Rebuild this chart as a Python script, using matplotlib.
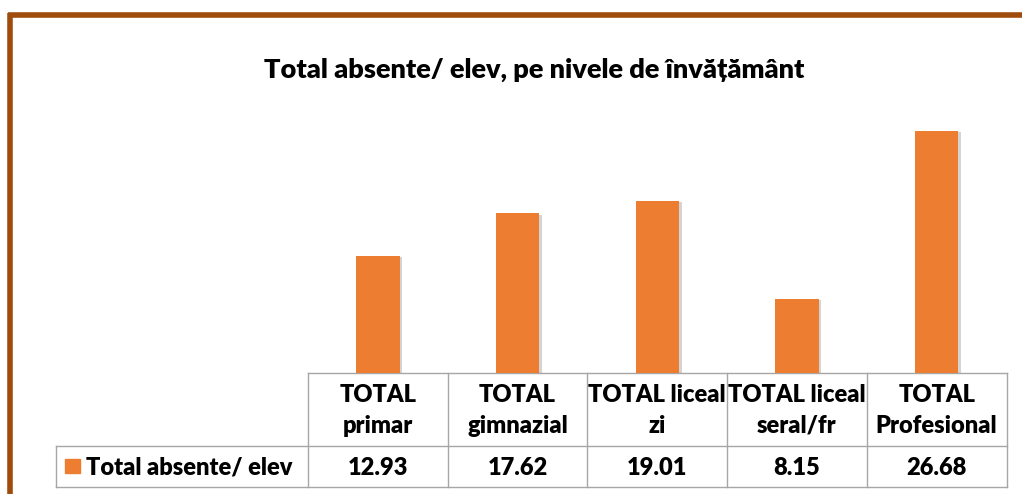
import matplotlib
matplotlib.use('Agg')
import matplotlib.pyplot as plt
import matplotlib.patheffects as pe
from matplotlib.patches import Rectangle

# ── DATA ──────────────────────────────────────────────────────────────────────
categories = ['TOTAL\nprimar', 'TOTAL\ngimnazial', 'TOTAL liceal\nzi',
              'TOTAL liceal\nseral/fr', 'TOTAL\nProfesional']
values = [12.93, 17.62, 19.01, 8.15, 26.68]
value_labels = ['12.93', '17.62', '19.01', '8.15', '26.68']
series_name = 'Total absente/ elev'
title = 'Total absente/ elev, pe nivele de învățământ'

plt.rcParams['font.family'] = ['Lato', 'DejaVu Sans']
WEIGHT = 'heavy'

W, H = 1022, 494
fig = plt.figure(figsize=(W / 100, H / 100), dpi=100)

# overlay in pixel coords (y down)
ov = fig.add_axes([0, 0, 1, 1])
ov.set_xlim(0, W)
ov.set_ylim(H, 0)
ov.axis('off')

# brown frame (top + left)
brown = '#9E4B0B'
ov.plot([8, W], [15, 15], color=brown, lw=4, solid_capstyle='butt')
ov.plot([10, 10], [13, H], color=brown, lw=4, solid_capstyle='butt')

ov.text(534, 70, title, ha='center', va='center', fontsize=19.5, fontweight=WEIGHT)

# plot area
x0, x1 = 308, 1006.5
y_bot, y_top = 373, 101
ax = fig.add_axes([x0 / W, (H - y_bot) / H, (x1 - x0) / W, (y_bot - y_top) / H])
ax.set_xlim(-0.5, len(values) - 0.5)
ax.set_ylim(0, 30)
ax.axis('off')
bars = ax.bar(range(len(values)), values, width=0.31, color='#ED7D31', zorder=3)
for b in bars:
    b.set_path_effects([pe.SimplePatchShadow(offset=(2, -1), alpha=0.25, shadow_rgbFace='#555555'),
                        pe.Normal()])

# data table
grid = '#A6A6A6'
col_w = (x1 - x0) / len(values)
top_y, mid_y, bot_y = 373, 446, 487
leg_x = 56
ov.plot([x0, x1], [top_y, top_y], color=grid, lw=1)
ov.plot([leg_x, x1], [mid_y, mid_y], color=grid, lw=1)
ov.plot([leg_x, x1], [bot_y, bot_y], color=grid, lw=1)
ov.plot([leg_x, leg_x], [mid_y, bot_y], color=grid, lw=1)
for i in range(len(values) + 1):
    xx = x0 + i * col_w
    ov.plot([xx, xx], [top_y, bot_y], color=grid, lw=1)

for i, (cat, lab) in enumerate(zip(categories, value_labels)):
    cx = x0 + (i + 0.5) * col_w
    ov.text(cx, (top_y + mid_y) / 2 + 1, cat, ha='center', va='center',
            fontsize=17, fontweight=WEIGHT, linespacing=1.45)
    ov.text(cx, (mid_y + bot_y) / 2 + 1, lab, ha='center', va='center',
            fontsize=17, fontweight=WEIGHT)

ov.add_patch(Rectangle((65, 459), 15, 14, color='#ED7D31'))
ov.text(86, (mid_y + bot_y) / 2 + 1, series_name, ha='left', va='center',
        fontsize=17, fontweight=WEIGHT)

fig.savefig('out.png', dpi=100)
